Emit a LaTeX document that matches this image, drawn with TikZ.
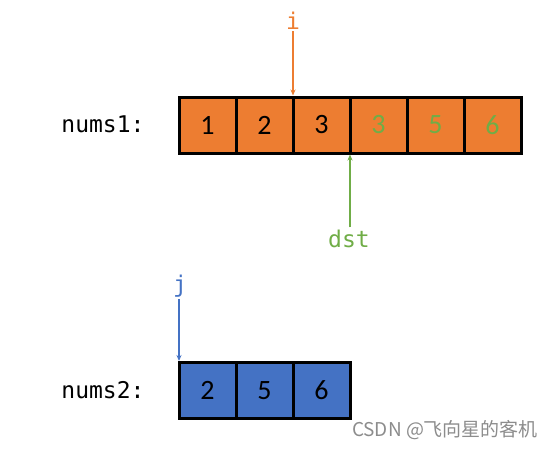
\documentclass[tikz,border=0pt]{standalone}
\usepackage{fontspec}
\setmonofont{DejaVu Sans Mono}
\newfontfamily\digitfont{Carlito}
\newfontfamily\cjkfont{Noto Sans CJK SC}
\usetikzlibrary{positioning, arrows.meta}
\definecolor{cellorange}{HTML}{ED7D31}
\definecolor{cellblue}{HTML}{4472C4}
\definecolor{dstgreen}{HTML}{70AD47}

\begin{document}
\begin{tikzpicture}[
    x=1pt, y=-1pt,
    cell/.style={draw=black, line width=3pt, minimum width=57pt, minimum height=56pt,
                 inner sep=0pt, outer sep=0pt, font=\digitfont\fontsize{28}{28}\selectfont},
    lbl/.style={font=\ttfamily\fontsize{23}{23}\selectfont, inner sep=2pt},
    ptr/.style={-{Stealth[length=6pt, width=5pt]}, line width=1.6pt, shorten >=1.5pt}
]
\useasboundingbox (0,0) rectangle (556,448);

% first array
\node[lbl, anchor=base] (lbl1) at (103,132) {nums1:};
\foreach \v/\c [count=\k] in {1/black, 2/black, 3/black, 3/dstgreen, 5/dstgreen, 6/dstgreen}{
  \node[cell, fill=cellorange, text=\c] (a\k) at ({150.5+57*\k},125) {\v};
}

% second array
\node[lbl, anchor=base] (lbl2) at (103,398) {nums2:};
\foreach \v [count=\k] in {2,5,6}{
  \node[cell, fill=cellblue] (b\k) at ({150.5+57*\k},390.5) {\v};
}

% pointers
\node[lbl, anchor=base, text=cellorange] (ptri) at (293,29) {i};
\draw[ptr, cellorange] (a2.north east |- ptri.south) -- (a2.north east);
\node[lbl, anchor=base, text=dstgreen] (ptrdst) at (349,247) {dst};
\draw[ptr, dstgreen] (a3.south east |- ptrdst.north) -- (a3.south east);
\node[lbl, anchor=base, text=cellblue] (ptrj) at (180,292) {j};
\draw[ptr, cellblue] (b1.north west |- ptrj.south) -- (b1.north west);

\node[font=\cjkfont\fontsize{19}{19}\selectfont, text=black!45] (mark) at (445,430) {CSDN @飞向星的客机};
\end{tikzpicture}
\end{document}
